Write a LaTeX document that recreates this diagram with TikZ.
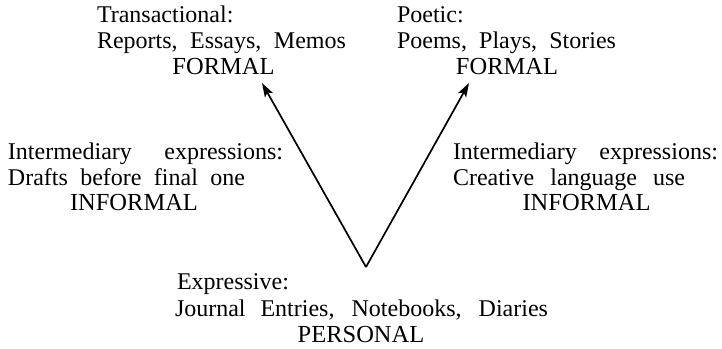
\documentclass[tikz,border=0pt]{standalone}
\usepackage{fontspec}
\setmainfont{Liberation Serif}
\usetikzlibrary{arrows.meta}
\tikzset{
  txt/.style={anchor=base west, inner sep=0pt, outer sep=0pt, font=\fontsize{24}{26}\selectfont},
  ctxt/.style={anchor=base, inner sep=0pt, outer sep=0pt, font=\fontsize{24.5}{26}\selectfont},
  arr/.style={line width=1.7pt, -{Stealth[length=14pt,width=9pt,inset=3pt]}}
}
\begin{document}
\begin{tikzpicture}[x=1pt,y=-1pt]
\useasboundingbox (0,0) rectangle (722,348);
% top left
\node[txt] (t1) at (97,22) {Transactional:};
\node[txt] (t2) at (97,48) {\makebox[249pt][s]{Reports, Essays, Memos}};
\node[ctxt] (t3) at (223.5,74) {FORMAL};
% top right
\node[txt] (p1) at (397,22) {Poetic:};
\node[txt] (p2) at (397,48) {\makebox[219pt][s]{Poems, Plays, Stories}};
\node[ctxt] (p3) at (507,74) {FORMAL};
% middle left
\node[txt] (l1) at (8,159) {\makebox[275pt][s]{Intermediary expressions:}};
\node[txt] (l2) at (8,185) {\makebox[237pt][s]{Drafts before final one}};
\node[ctxt] (l3) at (134,210) {INFORMAL};
% middle right
\node[txt] (r1) at (453,159) {\makebox[265pt][s]{Intermediary expressions:}};
\node[txt] (r2) at (453,185) {\makebox[232pt][s]{Creative language use}};
\node[ctxt] (r3) at (586.5,210) {INFORMAL};
% bottom
\node[txt] (e1) at (177,289) {Expressive:};
\node[txt] (e2) at (175,316) {\makebox[373pt][s]{Journal Entries, Notebooks, Diaries}};
\node[ctxt] (e3) at (361,342) {PERSONAL};
% arrows
\coordinate (v) at (366,267);
\coordinate (tipL) at (262,83);
\coordinate (tipR) at (469,83);
\draw[arr] (v) -- (tipL);
\draw[arr] (v) -- (tipR);
\end{tikzpicture}
\end{document}
